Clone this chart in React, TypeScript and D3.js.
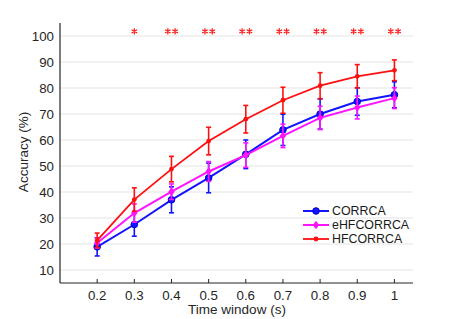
import { useEffect, useRef } from 'react'
import * as d3 from 'd3'

const timeWindows = [0.2, 0.3, 0.4, 0.5, 0.6, 0.7, 0.8, 0.9, 1.0]
const corrcaMean = [18.9, 27.5, 37.0, 45.4, 54.5, 63.9, 70.0, 74.8, 77.4]
const corrcaErr = [3.5, 4.5, 5.0, 5.7, 5.5, 6.0, 5.8, 5.3, 5.0]
const ehfMean = [20.4, 31.9, 40.1, 47.9, 54.2, 61.6, 68.5, 72.5, 76.1]
const ehfErr = [2.0, 3.5, 3.0, 3.8, 4.7, 4.5, 4.5, 4.4, 4.0]
const hfMean = [21.4, 37.1, 48.8, 59.6, 68.0, 75.3, 80.9, 84.5, 86.8]
const hfErr = [2.8, 4.5, 4.9, 5.3, 5.3, 5.0, 5.0, 4.5, 4.0]
const starCounts = [0, 1, 2, 2, 2, 2, 2, 2, 2]
const yTicks = [10, 20, 30, 40, 50, 60, 70, 80, 90, 100]
const xTickLabels = ['0.2', '0.3', '0.4', '0.5', '0.6', '0.7', '0.8', '0.9', '1']
const seriesNames = ['CORRCA', 'eHFCORRCA', 'HFCORRCA']

interface Series {
  name: string
  mean: number[]
  err: number[]
  color: string
  marker: 'circle' | 'diamond' | 'dot'
  width: number
}

const series: Series[] = [
  { name: seriesNames[0], mean: corrcaMean, err: corrcaErr, color: '#1414ff', marker: 'circle', width: 2 },
  { name: seriesNames[1], mean: ehfMean, err: ehfErr, color: '#ff14ff', marker: 'diamond', width: 2 },
  { name: seriesNames[2], mean: hfMean, err: hfErr, color: '#ff1010', marker: 'dot', width: 1.8 },
]

const font = '"Liberation Sans", Arial, sans-serif'

function drawMarker(g: d3.Selection<SVGGElement, unknown, null, undefined>, s: Series, cx: number, cy: number) {
  if (s.marker === 'circle') {
    g.append('circle').attr('cx', cx).attr('cy', cy).attr('r', 3.3)
      .attr('fill', s.color).attr('stroke', '#0000cc').attr('stroke-width', 1)
  } else if (s.marker === 'diamond') {
    g.append('path')
      .attr('d', `M${cx},${cy - 4.2}L${cx + 3.2},${cy}L${cx},${cy + 4.2}L${cx - 3.2},${cy}Z`)
      .attr('fill', s.color)
  } else {
    g.append('circle').attr('cx', cx).attr('cy', cy).attr('r', 2.4).attr('fill', s.color)
  }
}

export default function App() {
  const svgRef = useRef<SVGSVGElement>(null)

  useEffect(() => {
    if (!svgRef.current) return
    const width = 457
    const height = 319
    const margin = { top: 23, right: 44, bottom: 36, left: 60 }
    const innerW = width - margin.left - margin.right
    const innerH = height - margin.top - margin.bottom

    d3.select(svgRef.current).selectAll('*').remove()
    const svg = d3.select(svgRef.current).attr('width', width).attr('height', height)
    const g = svg.append('g').attr('transform', `translate(${margin.left},${margin.top})`)

    const x = d3.scaleLinear().domain([0.1, 1.05]).range([0, innerW])
    const y = d3.scaleLinear().domain([5, 105]).range([innerH, 0])

    // grid
    g.append('g')
      .selectAll('line')
      .data(yTicks)
      .join('line')
      .attr('x1', 0).attr('x2', innerW)
      .attr('y1', d => y(d)).attr('y2', d => y(d))
      .attr('stroke', '#e3e3e3').attr('stroke-width', 1)

    // y tick labels
    g.append('g')
      .selectAll('text')
      .data(yTicks)
      .join('text')
      .attr('x', -6).attr('y', d => y(d))
      .attr('dy', '0.36em')
      .attr('text-anchor', 'end')
      .attr('font-family', font).attr('font-size', 13.3)
      .attr('fill', '#262626')
      .text(d => d)

    // x axis
    g.append('line')
      .attr('x1', 0).attr('x2', innerW).attr('y1', innerH).attr('y2', innerH)
      .attr('stroke', '#262626').attr('stroke-width', 1)
    timeWindows.forEach((t, i) => {
      g.append('line')
        .attr('x1', x(t)).attr('x2', x(t)).attr('y1', innerH).attr('y2', innerH - 4)
        .attr('stroke', '#262626').attr('stroke-width', 1)
      g.append('text')
        .attr('x', x(t)).attr('y', innerH + 17)
        .attr('text-anchor', 'middle')
        .attr('font-family', font).attr('font-size', 13.3)
        .attr('fill', '#262626')
        .text(xTickLabels[i])
    })
    // y spine
    g.append('line')
      .attr('x1', 0).attr('x2', 0).attr('y1', 0).attr('y2', innerH)
      .attr('stroke', '#262626').attr('stroke-width', 1.2)

    // series
    series.forEach(s => {
      const line = d3.line<number>()
        .x((_, i) => x(timeWindows[i]))
        .y(d => y(d))
      g.append('path')
        .datum(s.mean)
        .attr('d', line)
        .attr('fill', 'none')
        .attr('stroke', s.color)
        .attr('stroke-width', s.width)

      s.mean.forEach((m, i) => {
        const cx = x(timeWindows[i])
        const top = y(m + s.err[i])
        const bot = y(m - s.err[i])
        g.append('line').attr('x1', cx).attr('x2', cx).attr('y1', top).attr('y2', bot)
          .attr('stroke', s.color).attr('stroke-width', 1.6)
        ;[top, bot].forEach(v => {
          g.append('line').attr('x1', cx - 2.5).attr('x2', cx + 2.5).attr('y1', v).attr('y2', v)
            .attr('stroke', s.color).attr('stroke-width', 1.6)
        })
        drawMarker(g, s, cx, y(m))
      })
    })

    // significance stars
    const star = d3.symbol().type(d3.symbolAsterisk).size(28)
    timeWindows.forEach((t, i) => {
      const n = starCounts[i]
      for (let k = 0; k < n; k++) {
        const cx = x(t) + (k - (n - 1) / 2) * 7.3
        g.append('path')
          .attr('d', star())
          .attr('transform', `translate(${cx},${y(101.8)})`)
          .attr('fill', 'none')
          .attr('stroke', '#ff2020')
          .attr('stroke-width', 1.3)
      }
    })

    // legend
    const lg = svg.append('g').attr('transform', 'translate(303,211)')
    series.forEach((s, i) => {
      const row = lg.append('g').attr('transform', `translate(0,${i * 14})`)
      row.append('line').attr('x1', 0).attr('x2', 26).attr('y1', 0).attr('y2', 0)
        .attr('stroke', s.color).attr('stroke-width', s.width)
      drawMarker(row as any, s, 13, 0)
      row.append('text')
        .attr('x', 29).attr('y', 0).attr('dy', '0.36em')
        .attr('font-family', font).attr('font-size', 12.4)
        .attr('fill', '#1a1a1a')
        .text(s.name)
    })

    // axis labels
    svg.append('text')
      .attr('x', 237).attr('y', 314)
      .attr('text-anchor', 'middle')
      .attr('font-family', font).attr('font-size', 13.5)
      .attr('fill', '#262626')
      .text('Time window (s)')

    svg.append('text')
      .attr('transform', `translate(28,152) rotate(-90)`)
      .attr('text-anchor', 'middle')
      .attr('font-family', font).attr('font-size', 13.5)
      .attr('fill', '#262626')
      .text('Accuracy (%)')
  }, [])

  return (
    <div style={{ position: 'absolute', left: 0, top: 0, background: '#fff' }}>
      <svg ref={svgRef} style={{ display: 'block' }} />
    </div>
  )
}
